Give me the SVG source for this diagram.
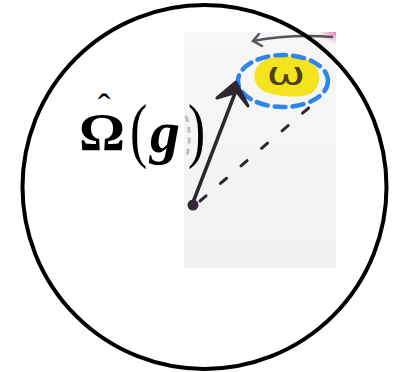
<svg xmlns="http://www.w3.org/2000/svg" width="400" height="372" viewBox="0 0 400 372">
<defs>
<style>
.ink{stroke:#2e2631;fill:none;stroke-linecap:round;stroke-linejoin:round}
.lbl{font-family:"Liberation Serif","Times New Roman",serif;fill:#000}
</style>
<linearGradient id="paper" x1="0" y1="0" x2="0" y2="1">
<stop offset="0" stop-color="#f7f7f7"/>
<stop offset="1" stop-color="#f1f1f2"/>
</linearGradient>
<radialGradient id="pink" cx="1" cy="0" r="1">
<stop offset="0" stop-color="#e47cb4"/>
<stop offset="1" stop-color="#e890bc" stop-opacity="0"/>
</radialGradient>
</defs>
<rect width="400" height="372" fill="#fff"/>
<g id="photo">
<rect x="184" y="32" width="152" height="236" fill="url(#paper)"/>
<rect x="318" y="32" width="18" height="12" fill="url(#pink)"/>
<path d="M186,116 Q192,135 187,156" stroke="#9a98a0" stroke-width="3" fill="none" opacity="0.6" stroke-dasharray="6 5"/>
<path d="M253,41 Q290,34 333,37" stroke="#55535c" stroke-width="2.5" fill="none"/>
<path d="M259,34 L253,41 L262,46" stroke="#55535c" stroke-width="2.5" fill="none" stroke-linecap="round"/>
</g>
<g id="omega-region">
<path d="M262,62 C275,54 300,55 312,62 C322,70 322,88 310,94 C296,99 272,96 262,90 C252,83 252,69 262,62 Z" fill="#f4e31e"/>
<ellipse cx="283" cy="81" rx="45" ry="26" fill="none" stroke="#2f86e6" stroke-width="4.5" stroke-dasharray="11 7" stroke-linecap="round"/>
<text x="0" y="0" text-anchor="middle" font-family="DejaVu Sans, sans-serif" font-size="32" fill="#4d421c" transform="translate(286,85) scale(1.45,1)">ω</text>
</g>
<g id="connectors">
<path class="ink" d="M192,205 L237,88" stroke-width="3.5"/>
<path d="M217,98 L236,82 L248,106 L237,92 Z" fill="#2e2631" stroke="#2e2631" stroke-width="3" stroke-linejoin="round"/>
<path class="ink" d="M200,201 L318,100" stroke-width="3" stroke-dasharray="8 19" stroke="#38343e"/>
<circle cx="193" cy="205" r="5.5" fill="#332a36"/>
</g>
<g id="circle">
<circle cx="204.5" cy="187" r="182" fill="none" stroke="#000" stroke-width="4"/>
</g>
<g id="label">
<text class="lbl"><tspan x="79" y="150" font-size="53" font-weight="bold" textLength="46" lengthAdjust="spacingAndGlyphs">Ω</tspan><tspan x="104" y="120" font-size="38" text-anchor="middle">ˆ</tspan></text>
<text class="lbl" font-size="72" transform="translate(130,154) scale(0.72,1)">(</text>
<text class="lbl" x="150" y="152" font-size="60" font-weight="bold" font-style="italic">g</text>
<text class="lbl" font-size="72" transform="translate(188,154) scale(0.72,1)">)</text>
</g>
</svg>
